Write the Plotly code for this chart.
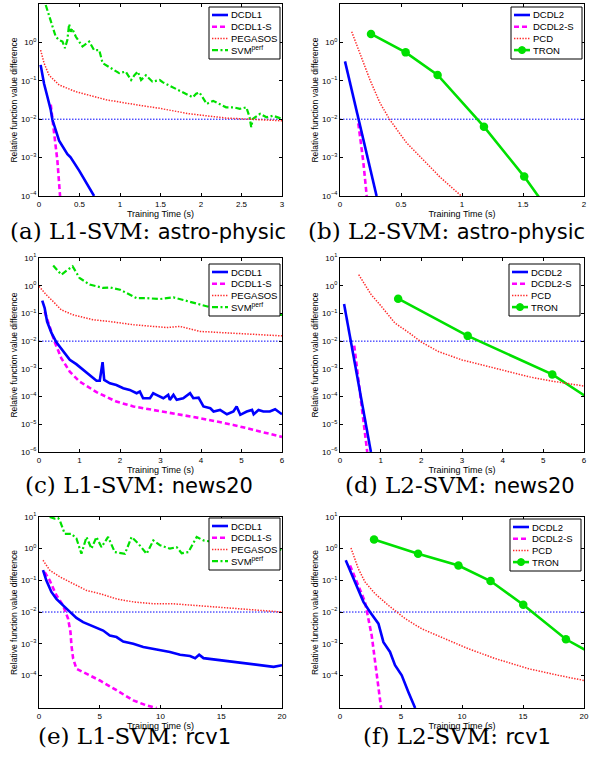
import plotly.graph_objects as go

# ---------------- data ----------------
TOL = 1e-2

# (a) L1-SVM astro-physic
a_dcdl1_t = [0.02, 0.062, 0.103, 0.145, 0.165, 0.248, 0.351, 0.39, 0.496, 0.579, 0.68]
a_dcdl1_v = [0.26, 0.085, 0.039, 0.0174, 0.0098, 0.00275, 0.00123, 0.00102, 4.57e-4, 2.29e-4, 1e-4]
a_dcdl1s_t = [0.145, 0.186, 0.227, 0.26]
a_dcdl1s_v = [0.024, 4.6e-3, 8.3e-4, 1e-4]
a_peg_t = [0.02, 0.062, 0.124, 0.248, 0.455, 0.83, 1.24, 1.47, 1.86, 2.31, 3.0]
a_peg_v = [0.63, 0.29, 0.14, 0.078, 0.052, 0.032, 0.023, 0.0195, 0.0138, 0.0107, 0.0091]
a_svm_t = [0.083, 0.124, 0.165, 0.207, 0.248, 0.29, 0.32, 0.35, 0.372, 0.393, 0.41, 0.455,
           0.537, 0.62, 0.68, 0.744, 0.785, 0.868, 0.99, 1.07, 1.137, 1.178, 1.22, 1.26, 1.32,
           1.40, 1.49, 1.53, 1.65, 1.74, 1.82, 1.9, 1.94, 1.98, 2.02, 2.07, 2.15, 2.23, 2.31,
           2.4, 2.48, 2.56, 2.6, 2.62, 2.64, 2.73, 2.81, 2.89, 3.0]
a_svm_v = [9.4, 5.2, 2.8, 1.4, 1.15, 1.05, 0.71, 1.15, 3.0, 1.9, 2.3, 1.4,
           0.78, 1.05, 0.63, 0.63, 0.29, 0.23, 0.158, 0.174, 0.105, 0.14, 0.174, 0.105, 0.14,
           0.095, 0.105, 0.091, 0.068, 0.055, 0.046, 0.037, 0.046, 0.05, 0.037, 0.025, 0.030,
           0.025, 0.0204, 0.0204, 0.0186, 0.0204, 0.0112, 0.0062, 0.0102, 0.0138, 0.0112,
           0.0123, 0.0102]

# (b) L2-SVM astro-physic
b_dcdl2_t = [0.041, 0.30]
b_dcdl2_v = [0.32, 1e-4]
b_dcdl2s_t = [0.15, 0.19, 0.219]
b_dcdl2s_v = [7.8e-3, 8.3e-4, 1e-4]
b_pcd_t = [0.096, 0.164, 0.246, 0.328, 0.41, 0.547, 0.68, 0.82, 0.984, 1.0]
b_pcd_v = [1.9, 0.52, 0.105, 0.0264, 0.0095, 0.0024, 8.7e-4, 3.1e-4, 1.07e-4, 1e-4]
b_tron_t = [0.254, 0.538, 0.80, 1.18, 1.51, 1.85]
b_tron_v = [1.66, 0.55, 0.142, 6.4e-3, 3.2e-4, 1e-5]

# (c) L1-SVM news20
c_dcdl1_t = [0.08, 0.14, 0.2, 0.31, 0.43, 0.59, 0.76, 0.92, 1.09, 1.25, 1.42, 1.5, 1.57, 1.61,
             1.75, 1.91, 2.08, 2.24, 2.41, 2.49, 2.57, 2.74, 2.82, 2.9, 3.07, 3.19, 3.23, 3.32,
             3.4, 3.56, 3.73, 3.81, 3.94, 4.06, 4.23, 4.31, 4.47, 4.64, 4.8, 4.88, 4.97, 5.13,
             5.26, 5.3, 5.42, 5.54, 5.7, 5.83, 6.0]
c_dcdl1_v = [0.29, 0.155, 0.051, 0.0195, 0.0091, 0.0043, 0.00214, 0.00148, 9.1e-4, 6.0e-4,
             3.7e-4, 3.7e-4, 1.74e-3, 4.0e-4, 3.0e-4, 2.6e-4, 2.0e-4, 1.74e-4, 1.32e-4, 1.51e-4,
             8.7e-5, 8.7e-5, 1.32e-4, 1.15e-4, 8.7e-5, 1.15e-4, 7.6e-5, 1.15e-4, 7.6e-5, 8.7e-5,
             1.32e-4, 8.7e-5, 9.1e-5, 4.4e-5, 3.8e-5, 2.9e-5, 3.3e-5, 2.3e-5, 2.9e-5, 4.4e-5,
             2.2e-5, 2.9e-5, 3.3e-5, 2.3e-5, 3.3e-5, 2.9e-5, 2.9e-5, 3.5e-5, 2.3e-5]
c_dcdl1s_t = [0.14, 0.26, 0.39, 0.55, 0.76, 1.0, 1.42, 1.91, 2.33, 3.15, 3.98, 4.8, 6.0]
c_dcdl1s_v = [0.117, 0.034, 0.0091, 0.00245, 7.9e-4, 3.5e-4, 1.45e-4, 6.6e-5, 4.4e-5, 2.7e-5,
              1.66e-5, 9.5e-6, 3.5e-6]
c_peg_t = [0, 0.18, 0.35, 0.55, 0.84, 1.34, 1.75, 2.33, 3.15, 3.48, 3.98, 4.8, 6.0]
c_peg_v = [0.95, 0.47, 0.27, 0.135, 0.089, 0.059, 0.051, 0.039, 0.031, 0.034, 0.0224, 0.0195, 0.0155]
c_svm_t = [0.35, 0.55, 0.68, 0.83, 1.0, 1.25, 1.58, 1.75, 2.0, 2.41, 2.66, 2.99, 3.32, 3.56,
           3.98, 4.31, 4.8, 5.63, 6.0]
c_svm_v = [5.4, 2.5, 3.5, 5.0, 1.9, 1.1, 0.83, 0.87, 0.72, 0.355, 0.355, 0.33, 0.38, 0.31,
           0.204, 0.155, 0.117, 0.089, 0.089]

# (d) L2-SVM news20
d_dcdl2_t = [0.1, 0.76]
d_dcdl2_v = [0.22, 1e-6]
d_dcdl2s_t = [0.35, 0.67]
d_dcdl2s_v = [6.9e-3, 1e-6]
d_pcd_t = [0.46, 0.77, 1.02, 1.35, 1.68, 2.01, 2.42, 3.0, 3.82, 4.64, 5.22, 6.0]
d_pcd_v = [2.5, 0.47, 0.178, 0.045, 0.0209, 0.0091, 0.0042, 0.0021, 1.05e-3, 5.2e-4, 3.6e-4, 2.4e-4]
d_tron_t = [1.43, 3.14, 5.22, 7.3]
d_tron_v = [0.34, 0.0155, 6.3e-4, 6.3e-6]

# (e) L1-SVM rcv1
e_dcdl1_t = [0.33, 0.6, 1.02, 1.43, 1.98, 2.53, 3.08, 3.63, 4.46, 5.28, 5.83, 6.38, 6.93, 7.76,
             8.58, 9.41, 9.96, 10.78, 11.61, 12.43, 12.85, 13.18, 13.54, 14.36, 15.19, 16.01,
             17.11, 18.21, 19.31, 20]
e_dcdl1_v = [0.21, 0.1, 0.043, 0.026, 0.0162, 0.01, 0.0065, 0.0048, 0.0036, 0.0026, 0.0018,
             0.00162, 0.00117, 0.001, 7.9e-4, 6.9e-4, 6.2e-4, 5.5e-4, 4.5e-4, 4.1e-4, 3.5e-4,
             4.5e-4, 3.5e-4, 3.2e-4, 2.8e-4, 2.6e-4, 2.3e-4, 2.1e-4, 1.86e-4, 2.1e-4]
e_dcdl1s_t = [0.47, 0.88, 1.43, 1.98, 2.39, 2.59, 2.67, 2.81, 3.08, 3.91, 5.01, 6.38, 7.76, 8.86, 9.68]
e_dcdl1s_v = [0.182, 0.1, 0.034, 0.0162, 0.0062, 0.00234, 8.9e-4, 3.4e-4, 1.62e-4, 1.12e-4,
              6.9e-5, 3.4e-5, 1.62e-5, 1.12e-5, 9.3e-6]
e_peg_t = [0.33, 0.88, 1.71, 2.81, 3.91, 5.01, 6.38, 7.76, 9.41, 11.06, 12.71, 14.64, 16.56, 20]
e_peg_v = [0.43, 0.21, 0.129, 0.079, 0.048, 0.038, 0.026, 0.0209, 0.0182, 0.0182, 0.0162,
           0.0145, 0.0129, 0.01]
e_svm_t = [0.88, 1.29, 1.57, 1.71, 2.12, 2.67, 3.08, 3.49, 3.91, 4.32, 4.73, 5.14, 5.69, 6.24,
           7.07, 7.62, 8.17, 8.86, 9.41, 9.96, 10.78, 11.33, 11.74, 12.29, 12.98, 13.54, 15.0,
           17.0, 19.0, 20.0]
e_svm_v = [10, 8.9, 9.3, 7.8, 2.95, 2.95, 2.1, 0.69, 2.34, 1.0, 2.34, 1.12, 2.34, 0.78, 0.69,
           2.34, 1.45, 0.69, 1.82, 1.29, 1.0, 1.12, 0.72, 0.78, 2.34, 1.82, 1.5, 1.1, 1.2, 0.89]

# (f) L2-SVM rcv1
f_dcdl2_t = [0.47, 1.23, 1.92, 2.46, 3.15, 3.56, 4.1, 4.51, 5.06, 5.61, 6.16]
f_dcdl2_v = [0.43, 0.089, 0.0209, 0.01, 0.0043, 0.00112, 5.5e-4, 2.1e-4, 1e-4, 2.95e-5, 9.3e-6]
f_dcdl2s_t = [0.82, 1.37, 2.05, 2.6, 3.01, 3.37]
f_dcdl2s_v = [0.295, 0.089, 0.0209, 0.0018, 1.29e-4, 9.3e-6]
f_pcd_t = [0.9, 1.5, 2.05, 2.87, 3.97, 5.34, 6.7, 8.62, 10.53, 12.72, 15.46, 17.92, 20]
f_pcd_v = [1.05, 0.234, 0.089, 0.038, 0.0162, 0.0062, 0.00295, 0.00145, 6.9e-4, 3.4e-4,
           1.62e-4, 1e-4, 6.9e-5]
f_tron_t = [2.79, 6.4, 9.71, 12.34, 15.02, 18.52, 21.5]
f_tron_v = [1.95, 0.69, 0.295, 0.095, 0.017, 1.38e-3, 3.2e-4]

# axis ticks / labels
x_ticks = {1: [0, 0.5, 1, 1.5, 2, 2.5, 3], 2: [0, 0.5, 1, 1.5, 2],
           3: [0, 1, 2, 3, 4, 5, 6], 4: [0, 1, 2, 3, 4, 5, 6],
           5: [0, 5, 10, 15, 20], 6: [0, 5, 10, 15, 20]}
x_ranges = {1: [0, 3], 2: [0, 2], 3: [0, 6], 4: [0, 6], 5: [0, 20], 6: [0, 20]}
y_exps = {1: [-4, -3, -2, -1, 0, 1], 2: [-4, -3, -2, -1, 0, 1],
          3: [-6, -5, -4, -3, -2, -1, 0, 1], 4: [-6, -5, -4, -3, -2, -1, 0, 1],
          5: [-4, -3, -2, -1, 0, 1], 6: [-4, -3, -2, -1, 0, 1]}
y_ranges = {1: [-4, 1], 2: [-4, 1], 3: [-6, 1], 4: [-6, 1], 5: [-5.03, 1], 6: [-5.03, 1]}
captions = ["(a) L1-SVM: ", "(b) L2-SVM: ", "(c) L1-SVM: ", "(d) L2-SVM: ", "(e) L1-SVM: ", "(f) L2-SVM: "]
datasets = ["astro-physic", "astro-physic", "news20", "news20", "rcv1", "rcv1"]
l1_names = ["DCDL1", "DCDL1-S", "PEGASOS", "SVM<sup>perf</sup>"]
l2_names = ["DCDL2", "DCDL2-S", "PCD", "TRON"]

# ---------------- styling / layout ----------------
W, H = 589, 762
BLUE, MAG, RED, GREEN = "#0000ff", "#ff00ff", "#ff2a2a", "#00e000"
FONT = "Liberation Sans, Arial, sans-serif"
STYLE = {  # name -> (color, dash, width, marker)
    "DCDL": (BLUE, "solid", 2.6, False),
    "DCDL-S": (MAG, "5px,3px", 2.6, False),
    "SLOW": (RED, "1.4px,1.4px", 1.5, False),
    "SVMPERF": (GREEN, "6px,2.5px,2px,2.5px", 2.2, False),
    "TRON": (GREEN, "solid", 2.6, True),
}

xdom = {"L": [39 / W, 282 / W], "R": [340 / W, 584 / W]}
rows_px = [(4, 196), (258, 452), (517, 708)]
ydoms = [[1 - b / H, 1 - t / H] for t, b in rows_px]

fig = go.Figure()
shapes, annotations = [], []


def axref(i):
    return ("x" if i == 1 else f"x{i}"), ("y" if i == 1 else f"y{i}")


def add(i, t, v, name, style):
    color, dash, width, marker = style
    xa, ya = axref(i)
    kw = dict(x=t, y=v, name=name, mode="lines+markers" if marker else "lines",
              xaxis=xa, yaxis=ya, showlegend=False, hoverinfo="skip",
              line=dict(color=color, dash=dash, width=width))
    if marker:
        kw["marker"] = dict(size=8.5, color=color, symbol="circle")
    fig.add_trace(go.Scatter(**kw))


def tol_line(i):
    xa, ya = axref(i)
    fig.add_trace(go.Scatter(x=x_ranges[i], y=[TOL, TOL], mode="lines", name="tolerance",
                             xaxis=xa, yaxis=ya, showlegend=False, hoverinfo="skip",
                             line=dict(color=BLUE, dash="1.5px,1.5px", width=1)))


def legend_box(x0, y0, w, h, entries):
    px = lambda x: x / W
    py = lambda y: 1 - y / H
    shapes.append(dict(type="rect", xref="paper", yref="paper", x0=px(x0), x1=px(x0 + w),
                       y0=py(y0), y1=py(y0 + h), line=dict(color="black", width=1),
                       fillcolor="white", layer="above"))
    for k, (name, style) in enumerate(entries):
        color, dash, width, marker = style
        yy = y0 + 8 + k * 11.7
        shapes.append(dict(type="line", xref="paper", yref="paper", x0=px(x0 + 3), x1=px(x0 + 19),
                           y0=py(yy), y1=py(yy), line=dict(color=color, dash=dash, width=width),
                           layer="above"))
        if marker:
            shapes.append(dict(type="circle", xref="paper", yref="paper",
                               x0=px(x0 + 7.5), x1=px(x0 + 14.5), y0=py(yy - 3.5), y1=py(yy + 3.5),
                               line=dict(color=color, width=1), fillcolor=color, layer="above"))
        annotations.append(dict(xref="paper", yref="paper", x=px(x0 + 19.5), y=py(yy),
                                xanchor="left", yanchor="middle", showarrow=False, text=name,
                                font=dict(size=9.5, family=FONT, color="black")))


# L1 panels
for i, data in [(1, (a_dcdl1_t, a_dcdl1_v, a_dcdl1s_t, a_dcdl1s_v, a_peg_t, a_peg_v, a_svm_t, a_svm_v)),
                (3, (c_dcdl1_t, c_dcdl1_v, c_dcdl1s_t, c_dcdl1s_v, c_peg_t, c_peg_v, c_svm_t, c_svm_v)),
                (5, (e_dcdl1_t, e_dcdl1_v, e_dcdl1s_t, e_dcdl1s_v, e_peg_t, e_peg_v, e_svm_t, e_svm_v))]:
    tol_line(i)
    add(i, data[6], data[7], l1_names[3], STYLE["SVMPERF"])
    add(i, data[4], data[5], l1_names[2], STYLE["SLOW"])
    add(i, data[2], data[3], l1_names[1], STYLE["DCDL-S"])
    add(i, data[0], data[1], l1_names[0], STYLE["DCDL"])

# L2 panels
for i, data in [(2, (b_dcdl2_t, b_dcdl2_v, b_dcdl2s_t, b_dcdl2s_v, b_pcd_t, b_pcd_v, b_tron_t, b_tron_v)),
                (4, (d_dcdl2_t, d_dcdl2_v, d_dcdl2s_t, d_dcdl2s_v, d_pcd_t, d_pcd_v, d_tron_t, d_tron_v)),
                (6, (f_dcdl2_t, f_dcdl2_v, f_dcdl2s_t, f_dcdl2s_v, f_pcd_t, f_pcd_v, f_tron_t, f_tron_v))]:
    tol_line(i)
    add(i, data[6], data[7], l2_names[3], STYLE["TRON"])
    add(i, data[4], data[5], l2_names[2], STYLE["SLOW"])
    add(i, data[2], data[3], l2_names[1], STYLE["DCDL-S"])
    add(i, data[0], data[1], l2_names[0], STYLE["DCDL"])

l1_entries = list(zip(l1_names, [STYLE["DCDL"], STYLE["DCDL-S"], STYLE["SLOW"], STYLE["SVMPERF"]]))
l2_entries = list(zip(l2_names, [STYLE["DCDL"], STYLE["DCDL-S"], STYLE["SLOW"], STYLE["TRON"]]))
legend_pos = {1: (209, 7), 2: (511, 7), 3: (209, 264), 4: (509, 264), 5: (209, 518), 6: (510, 519)}
cap_x = [148, 447, 139, 460, 134, 457]
cap_y = [231, 231, 485, 485, 736, 736]

layout = dict(width=W, height=H, margin=dict(l=0, r=0, t=0, b=0, autoexpand=False),
              paper_bgcolor="white", plot_bgcolor="white", hovermode=False,
              font=dict(family=FONT, color="black"))

for i in range(1, 7):
    col = "L" if i % 2 == 1 else "R"
    row = (i - 1) // 2
    xa, ya = axref(i)
    xkey = "xaxis" if i == 1 else f"xaxis{i}"
    ykey = "yaxis" if i == 1 else f"yaxis{i}"
    common = dict(showline=True, linecolor="black", linewidth=1, mirror="allticks",
                  ticks="inside", ticklen=3, tickcolor="black", showgrid=False, automargin=False,
                  zeroline=False, tickfont=dict(size=8, family=FONT, color="black"))
    layout[xkey] = dict(domain=xdom[col], anchor=ya, range=x_ranges[i],
                        tickvals=x_ticks[i], ticktext=[f"{v:g}" for v in x_ticks[i]],
                        title=dict(text="Training Time (s)", font=dict(size=9), standoff=1),
                        **common)
    layout[ykey] = dict(domain=ydoms[row], anchor=xa, type="log", range=y_ranges[i],
                        tickvals=[10.0 ** e for e in y_exps[i]],
                        ticktext=[f"10<sup>{'−' if e < 0 else ''}{abs(e)}</sup>" for e in y_exps[i]],
                        title=dict(text="Relative function value difference", font=dict(size=8.5),
                                   standoff=2),
                        **common)
    lx, ly = legend_pos[i]
    legend_box(lx, ly, 71, 52, l1_entries if col == "L" else l2_entries)
    annotations.append(dict(
        xref="paper", yref="paper", x=cap_x[i - 1] / W, y=1 - cap_y[i - 1] / H,
        xanchor="center", yanchor="middle", showarrow=False,
        text=captions[i - 1] + f"<span style='font-family:DejaVu Sans;font-size:21px'>{datasets[i - 1]}</span>",
        font=dict(size=23, family="DejaVu Serif, serif", color="black")))

layout["shapes"] = shapes
layout["annotations"] = annotations
fig.update_layout(**layout)
fig.write_html("out.html", config={"displayModeBar": False, "staticPlot": True},
               post_script="document.body.style.margin='0px';")
